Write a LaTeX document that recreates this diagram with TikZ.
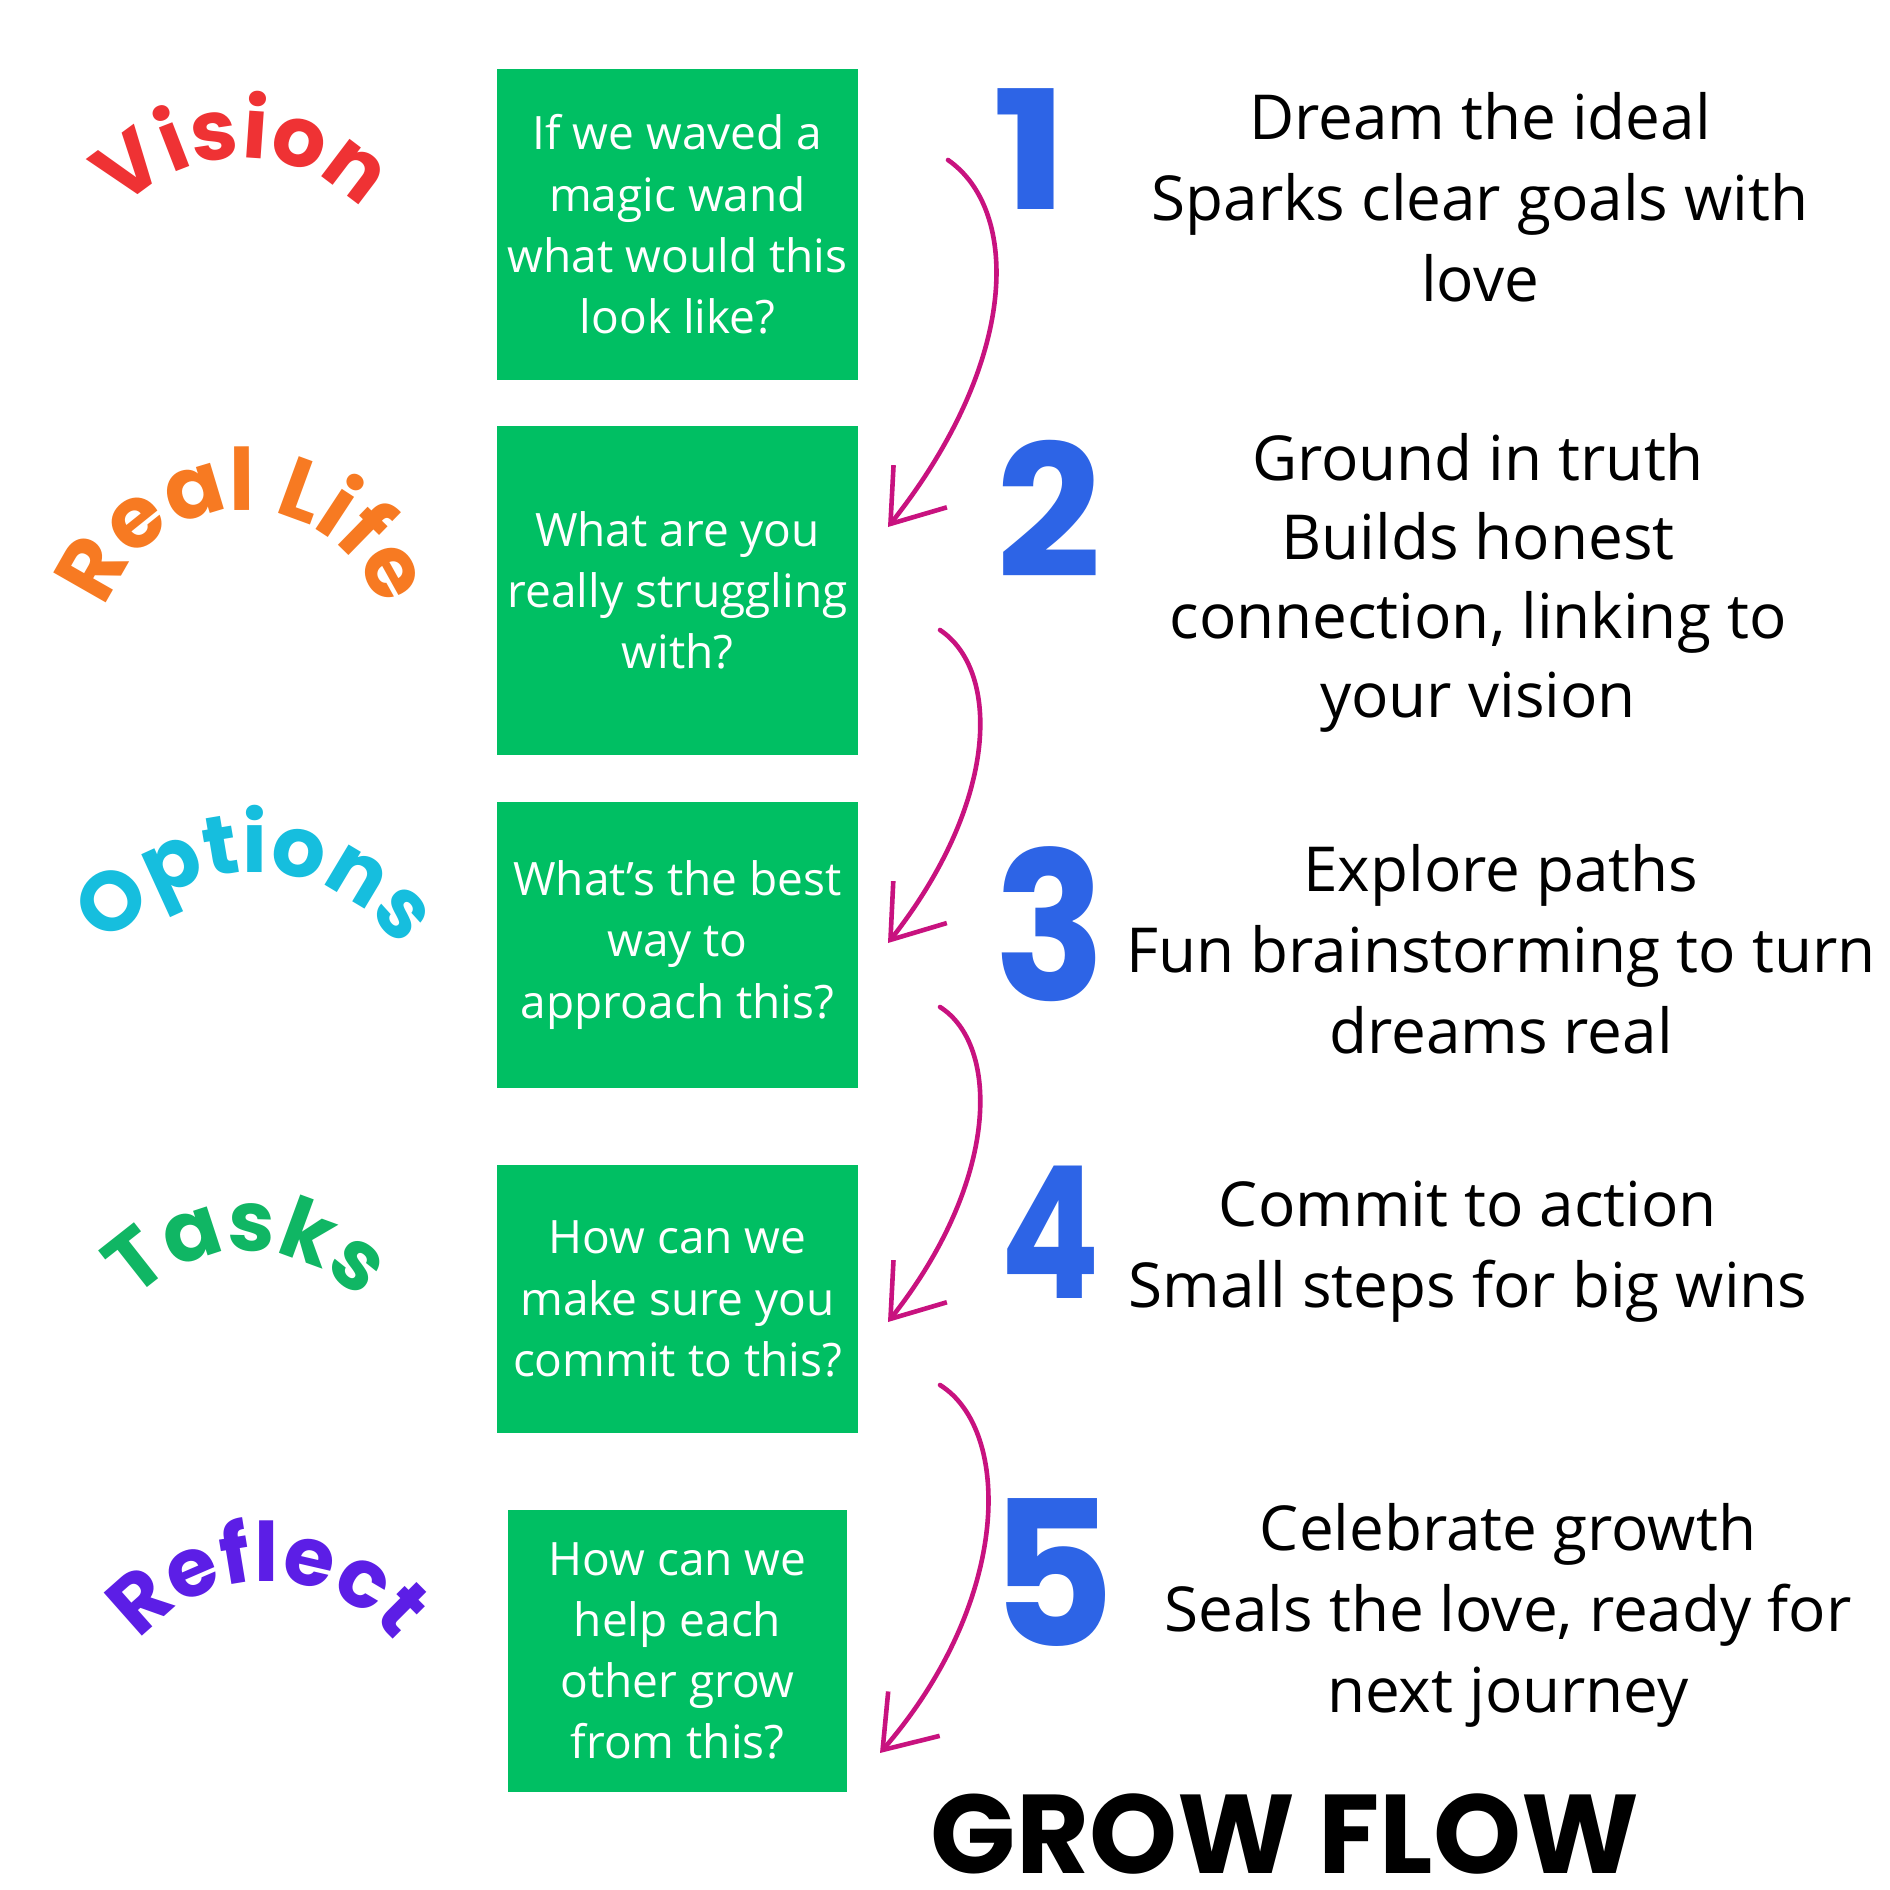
\documentclass[tikz,border=0pt]{standalone}
\usepackage{fontspec}
\setmainfont{Open Sans}
\newfontfamily\popfont{Poppins}
\usetikzlibrary{decorations.text,arrows.meta}
\definecolor{boxgreen}{RGB}{0,191,99}
\definecolor{handpink}{RGB}{200,18,127}
\definecolor{digitblue}{RGB}{45,100,230}
\definecolor{cvision}{RGB}{239,50,52}
\definecolor{creal}{RGB}{247,122,34}
\definecolor{coptions}{RGB}{22,190,222}
\definecolor{ctasks}{RGB}{16,182,100}
\definecolor{creflect}{RGB}{92,30,230}
\newcommand\arcword[6]{\path[decorate,decoration={text along path,text align=center,
  text={|\popfont\bfseries\fontsize{#6}{#6}\selectfont\color{#4}|#5}}]
  (#1-#3,-#2) arc[start angle=180,end angle=0,radius=#3];}
\begin{document}
\begin{tikzpicture}[x=0.5pt,y=0.5pt,
  qbox/.style={fill=boxgreen, inner sep=0pt, text=white, align=center,
    font=\fontsize{23}{30.6}\selectfont},
  steptext/.style={align=center, anchor=base, inner sep=0pt,
    font=\fontsize{31}{40.5}\selectfont},
  digit/.style={inner sep=0pt, text=digitblue, font=\popfont\bfseries\fontsize{92}{92}\selectfont},
  hand/.style={draw=handpink, line width=2.3pt, line cap=round,
    -{Straight Barb[length=24pt,width=34pt,line width=2.3pt]}}]
\fill[white] (0,0) rectangle (1890,-1890);
\useasboundingbox (0,0) rectangle (1890,-1890);

% curved labels
\arcword{242}{321}{163}{cvision}{Vision}{42}
\arcword{243}{655}{145}{creal}{Real Life}{43}
\arcword{255}{1047}{175}{coptions}{Options}{42}
\arcword{247}{1403}{152}{ctasks}{Tasks}{42}
\arcword{267}{1745}{164}{creflect}{Reflect}{41}

% question boxes
\node[qbox, minimum width=180.5pt, minimum height=155.5pt] (q1) at (677.5,-224.5)
  {If we waved a\\magic wand\\what would this\\look like?};
\node[qbox, minimum width=180.5pt, minimum height=164.5pt] (q2) at (677.5,-590.5)
  {What are you\\really struggling\\with?};
\node[qbox, minimum width=180.5pt, minimum height=143pt] (q3) at (677.5,-945)
  {What’s the best\\way to\\approach this?};
\node[qbox, minimum width=180.5pt, minimum height=134pt] (q4) at (677.5,-1299)
  {How can we\\make sure you\\commit to this?};
\node[qbox, minimum width=169.5pt, minimum height=141pt] (q5) at (677.5,-1651)
  {How can we\\help each\\other grow\\from this?};

% digits
\node[digit] (d1) at (1031,-149) {\scalebox{1.1}[0.9]{1}};
\node[digit] (d2) at (1049,-509) {2};
\node[digit] (d3) at (1050,-924) {\scalebox{1}[1.12]{3}};
\node[digit] (d4) at (1050,-1232) {\scalebox{0.8}[1]{4}};
\node[digit] (d5) at (1053,-1572) {\scalebox{1.04}[1.1]{5}};

% step texts (anchored on the baseline of their last line)
\node[steptext] (s1) at (1480,-301) {Dream the ideal\\Sparks clear goals with\\love};
\node[steptext, font=\fontsize{31}{39.4}\selectfont] (s2) at (1478,-717) {Ground in truth\\Builds honest\\connection, linking to\\your vision};
\node[steptext] (s3) at (1501,-1053) {Explore paths\\Fun brainstorming to turn\\dreams real};
\node[steptext] (s4) at (1468,-1307) {Commit to action\\Small steps for big wins};
\node[steptext] (s5) at (1508,-1712) {Celebrate growth\\Seals the love, ready for\\next journey};

% hand-drawn arrows
\coordinate (a1s) at (948,-160);  \coordinate (a1e) at (888,-527);
\coordinate (a2s) at (940,-630);  \coordinate (a2e) at (888,-943);
\coordinate (a3s) at (940,-1007); \coordinate (a3e) at (888,-1322);
\coordinate (a4s) at (940,-1385); \coordinate (a4e) at (880,-1753);
\draw[hand] (a1s) .. controls (1020,-210) and (1020,-360) .. (a1e);
\draw[hand] (a2s) .. controls (1000,-670) and (1000,-800) .. (a2e);
\draw[hand] (a3s) .. controls (1000,-1045) and (1000,-1180) .. (a3e);
\draw[hand] (a4s) .. controls (1012,-1430) and (1012,-1600) .. (a4e);

% title
\node[anchor=base, inner sep=0pt, font=\popfont\bfseries\fontsize{56}{56}\selectfont] (title) at (1285,-1873) {GROW FLOW};
\end{tikzpicture}
\end{document}
